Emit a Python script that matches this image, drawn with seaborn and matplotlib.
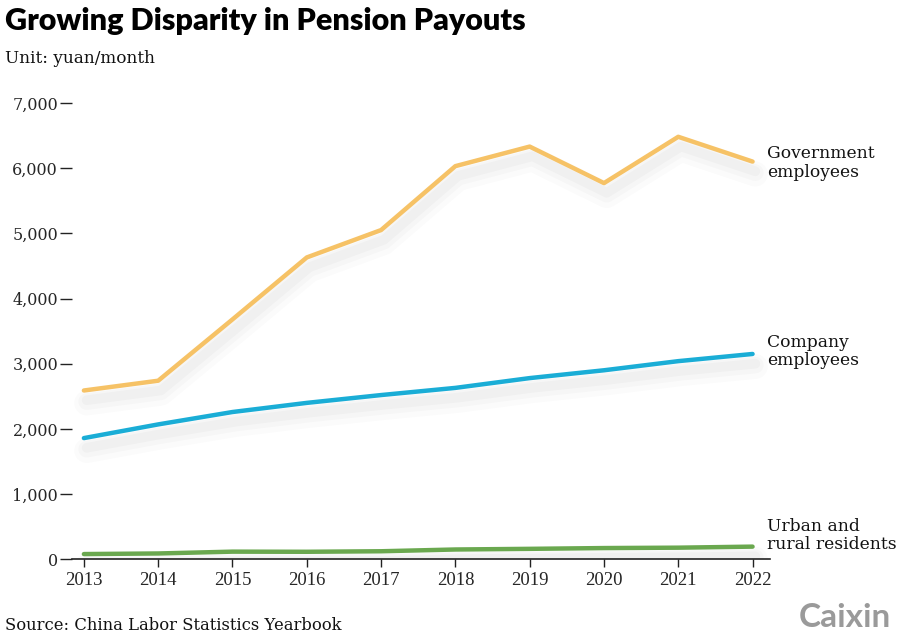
import pandas as pd
import matplotlib.pyplot as plt
import matplotlib.patheffects as pe
import seaborn as sns

years = [2013, 2014, 2015, 2016, 2017, 2018, 2019, 2020, 2021, 2022]
government = [2590, 2740, 3680, 4630, 5050, 6030, 6330, 5770, 6480, 6100]
company = [1860, 2070, 2260, 2400, 2520, 2630, 2780, 2900, 3040, 3150]
residents = [82, 91, 119, 117, 125, 152, 162, 174, 180, 196]

series_names = ['Government\nemployees', 'Company\nemployees', 'Urban and\nrural residents']
colors = ['#F6C266', '#1AADD6', '#6AA84F']

df = pd.DataFrame({'Year': years, series_names[0]: government,
                   series_names[1]: company, series_names[2]: residents})
long_df = df.melt(id_vars='Year', var_name='Group', value_name='Payout')

sns.set_theme(style='white')
plt.rcParams['font.family'] = ['DejaVu Serif']

fig = plt.figure(figsize=(9, 6.43), dpi=100)
ax = fig.add_axes([0.08, 0.13, 0.776, 0.71])

sns.lineplot(data=long_df, x='Year', y='Payout', hue='Group',
             palette=dict(zip(series_names, colors)), linewidth=3.2,
             legend=False, ax=ax)

# soft blurry shadow under each line
for line in ax.get_lines():
    line.set_solid_capstyle('round')
    line.set_path_effects([
        pe.SimpleLineShadow(offset=(2, -9), shadow_color='#000000', alpha=0.015, linewidth=18),
        pe.SimpleLineShadow(offset=(2, -8), shadow_color='#000000', alpha=0.02, linewidth=12),
        pe.SimpleLineShadow(offset=(2, -7), shadow_color='#000000', alpha=0.025, linewidth=7),
        pe.Normal()])

ax.set_xlim(2012.84, 2022.24)
ax.set_ylim(0, 7000)
ax.set_xticks(years)
ax.set_yticks(range(0, 7001, 1000))
ax.set_yticklabels([f'{v:,}' for v in range(0, 7001, 1000)])
ax.set_xlabel('')
ax.set_ylabel('')

for side in ['left', 'right', 'top']:
    ax.spines[side].set_visible(False)
ax.spines['bottom'].set_color('#222222')
ax.spines['bottom'].set_linewidth(1.2)
ax.tick_params(axis='x', bottom=True, length=6, width=1, color='#222222',
               labelsize=11.5, pad=3)
ax.tick_params(axis='y', left=True, length=9, width=1, color='#222222',
               labelsize=11.5, pad=1)
for lab in ax.get_xticklabels():
    lab.set_family('Liberation Serif')
    lab.set_fontsize(13.5)

# end labels
offsets = [6080, 3190, 370]
for name, y in zip(series_names, offsets):
    ax.text(2022.2, y, name, fontsize=12.3, va='center', ha='left',
            linespacing=1.1, color='#111111', clip_on=False)

fig.text(0.006, 0.967, 'Growing Disparity in Pension Payouts', fontsize=22,
         fontweight='heavy', family='Lato', va='center', ha='left', color='#000000')
fig.text(0.006, 0.909, 'Unit: yuan/month', fontsize=12.2, va='center', ha='left',
         color='#111111')
fig.text(0.006, 0.027, 'Source: China Labor Statistics Yearbook', fontsize=11.8,
         va='center', ha='left', color='#111111')
fig.text(0.99, 0.04, 'Caixin', fontsize=24, fontweight='bold', family='Lato',
         va='center', ha='right', color='#9a9a9a')

fig.savefig('out.png', dpi=100)
